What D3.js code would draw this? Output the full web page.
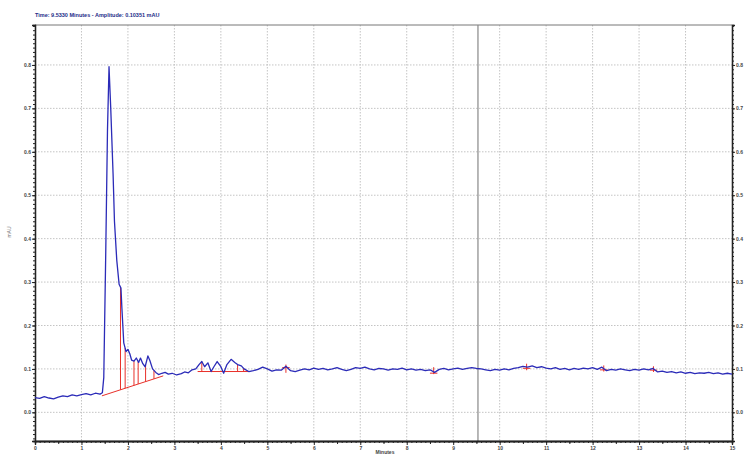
<!DOCTYPE html>
<html>
<head>
<meta charset="utf-8">
<script src="https://cdn.jsdelivr.net/npm/d3@7"></script>
<style>
  body { margin: 0; background: #fff; }
  text { font-family: "Liberation Sans", Arial, sans-serif; }
</style>
</head>
<body>
<div id="chart"></div>
<script>
// chromatogram trace, minutes vs mAU
let traceT = [0, 0.1, 0.2, 0.3, 0.4, 0.5, 0.6, 0.7, 0.8, 0.9, 1.0, 1.1, 1.2, 1.3, 1.4, 1.45,
  1.48, 1.52, 1.56, 1.593, 1.63, 1.68, 1.71, 1.76, 1.81, 1.85, 1.87, 1.91, 1.96, 2.0, 2.04, 2.08,
  2.13, 2.18, 2.23, 2.27, 2.32, 2.37, 2.43, 2.47, 2.53, 2.6, 2.66, 2.73, 2.8, 2.87, 2.95, 3.05,
  3.15, 3.22, 3.3, 3.38, 3.46, 3.53, 3.59, 3.65, 3.72, 3.79, 3.85, 3.92, 4.0, 4.06, 4.13, 4.22,
  4.3, 4.36, 4.44, 4.5, 4.6,
  4.7, 4.8, 4.9, 5.0, 5.1, 5.2, 5.3, 5.4, 5.5, 5.6, 5.7, 5.8, 5.9, 6.0, 6.1, 6.2, 6.3, 6.4, 6.5,
  6.6, 6.7, 6.8, 6.9, 7.0, 7.1, 7.2, 7.3, 7.4, 7.5, 7.6, 7.7, 7.8, 7.9, 8.0, 8.1, 8.2, 8.3, 8.4,
  8.5, 8.6, 8.7, 8.8, 8.9, 9.0, 9.1, 9.2, 9.3, 9.4, 9.5, 9.6, 9.7, 9.8, 9.9, 10.0, 10.1, 10.2,
  10.3, 10.4, 10.5, 10.6, 10.7, 10.8, 10.9, 11.0, 11.1, 11.2, 11.3, 11.4, 11.5, 11.6, 11.7, 11.8,
  11.9, 12.0, 12.1, 12.2, 12.3, 12.4, 12.5, 12.6, 12.7, 12.8, 12.9, 13.0, 13.1, 13.2, 13.3, 13.4,
  13.5, 13.6, 13.7, 13.8, 13.9, 14.0, 14.1, 14.2, 14.3, 14.4, 14.5, 14.6, 14.7, 14.8, 14.9, 15.0];
let traceV = [0.034, 0.032, 0.036, 0.033, 0.031, 0.035, 0.038, 0.036, 0.040, 0.038, 0.041, 0.043, 0.040, 0.044, 0.042, 0.045,
  0.08, 0.35, 0.65, 0.796, 0.70, 0.55, 0.44, 0.35, 0.295, 0.286, 0.24, 0.16, 0.14, 0.145, 0.135, 0.12,
  0.118, 0.125, 0.115, 0.125, 0.112, 0.105, 0.13, 0.12, 0.10, 0.092, 0.087, 0.09, 0.092, 0.088, 0.09, 0.086,
  0.089, 0.093, 0.091, 0.098, 0.10, 0.11, 0.117, 0.105, 0.114, 0.094, 0.105, 0.117, 0.105, 0.09, 0.11, 0.122,
  0.115, 0.11, 0.107, 0.10, 0.094,
  0.096, 0.099, 0.104, 0.100, 0.095, 0.098, 0.097, 0.106, 0.096, 0.094, 0.097, 0.100, 0.098, 0.102, 0.099, 0.101, 0.098, 0.100, 0.103,
  0.099, 0.096, 0.099, 0.103, 0.101, 0.104, 0.100, 0.098, 0.101, 0.100, 0.097, 0.100, 0.099, 0.102, 0.098, 0.100, 0.097, 0.099, 0.096,
  0.098, 0.092, 0.099, 0.101, 0.098, 0.100, 0.102, 0.099, 0.101, 0.103, 0.101, 0.100, 0.098, 0.096, 0.099, 0.097, 0.100, 0.098,
  0.101, 0.103, 0.106, 0.104, 0.107, 0.103, 0.105, 0.102, 0.100, 0.103, 0.099, 0.101, 0.098, 0.101, 0.099, 0.102,
  0.100, 0.103, 0.099, 0.104, 0.096, 0.099, 0.097, 0.100, 0.098, 0.096, 0.099, 0.097, 0.100, 0.098, 0.101, 0.093,
  0.095, 0.092, 0.094, 0.091, 0.093, 0.090, 0.092, 0.089, 0.091, 0.090, 0.092, 0.089, 0.091, 0.088, 0.090, 0.088];

// integration baselines (red)
let base1 = [[1.44, 0.038], [2.76, 0.084]];
let drops1 = [1.84, 1.94, 2.13, 2.22, 2.38, 2.56];
let base2 = [[3.5, 0.094], [4.63, 0.094]];
let drops2 = [3.59, 3.79, 4.08, 4.36, 4.49];
// small integrated blips: [time, low, high]
let blips = [[5.4, 0.091, 0.110], [8.58, 0.088, 0.104], [10.58, 0.097, 0.112], [12.24, 0.094, 0.108], [13.31, 0.093, 0.106]];

let xTicks = d3.range(0, 16, 1);
let yTicks = [0.0, 0.1, 0.2, 0.3, 0.4, 0.5, 0.6, 0.7, 0.8];
let cursorT = 9.533;
let titleText = "Time:  9.5330 Minutes - Amplitude:  0.10351 mAU";

let dim = { width: 751, height: 457, left: 35, right: 732, top: 25, bottom: 441 };

let svg = d3.select("#chart").append("svg")
  .attr("width", dim.width).attr("height", dim.height)
  .style("background", "#fff");

let x = d3.scaleLinear().domain([0, 15]).range([dim.left, dim.right]);
let y = d3.scaleLinear().domain([-0.066, 0.892]).range([dim.bottom, dim.top]);

// grid
svg.append("g").selectAll("line").data(xTicks.slice(1, -1)).join("line")
  .attr("x1", d => x(d)).attr("x2", d => x(d))
  .attr("y1", dim.top).attr("y2", dim.bottom)
  .attr("stroke", "#c4c4c4").attr("stroke-width", 1).attr("stroke-dasharray", "1.5,1.5");
svg.append("g").selectAll("line").data(yTicks).join("line")
  .attr("x1", dim.left).attr("x2", dim.right)
  .attr("y1", d => y(d)).attr("y2", d => y(d))
  .attr("stroke", "#c4c4c4").attr("stroke-width", 1).attr("stroke-dasharray", "1.5,1.5");

// frame top
svg.append("line").attr("x1", dim.left).attr("x2", dim.right)
  .attr("y1", dim.top).attr("y2", dim.top).attr("stroke", "#777").attr("stroke-width", 1);

// cursor
svg.append("line").attr("x1", x(cursorT)).attr("x2", x(cursorT))
  .attr("y1", dim.top).attr("y2", dim.bottom).attr("stroke", "#888").attr("stroke-width", 1.2);

// axes
function styleAxis(g) {
  g.select(".domain").attr("stroke", "#222").attr("stroke-width", 1.3);
  g.selectAll(".tick line").attr("stroke", "#222");
  g.selectAll("text").attr("font-size", 5).attr("font-weight", "bold").attr("fill", "#444");
}
let fmtY = d3.format(".1f");
let minorY = d3.range(-0.06, 0.891, 0.01).map(d => +d.toFixed(2));
let minorX = d3.range(0, 15.01, 0.1).map(d => +d.toFixed(1));

svg.append("g").attr("transform", `translate(${dim.left},0)`)
  .call(d3.axisLeft(y).tickValues(minorY).tickSize(2).tickFormat(""))
  .call(styleAxis);
svg.append("g").attr("transform", `translate(${dim.left},0)`)
  .call(d3.axisLeft(y).tickValues(yTicks).tickSize(3).tickPadding(1).tickFormat(fmtY))
  .call(styleAxis);
svg.append("g").attr("transform", `translate(${dim.right},0)`)
  .call(d3.axisRight(y).tickValues(minorY).tickSize(2).tickFormat(""))
  .call(styleAxis);
svg.append("g").attr("transform", `translate(${dim.right},0)`)
  .call(d3.axisRight(y).tickValues(yTicks).tickSize(3).tickPadding(1).tickFormat(fmtY))
  .call(styleAxis);

svg.append("g").attr("transform", `translate(0,${dim.bottom})`)
  .call(d3.axisBottom(x).tickValues(minorX).tickSize(2).tickFormat(""))
  .call(styleAxis);
svg.append("g").attr("transform", `translate(0,${dim.bottom})`)
  .call(d3.axisBottom(x).tickValues(d3.range(0.5, 15, 1)).tickSize(3).tickFormat(""))
  .call(styleAxis);
svg.append("g").attr("transform", `translate(0,${dim.bottom})`)
  .call(d3.axisBottom(x).tickValues(xTicks).tickSize(4).tickPadding(1).tickFormat(d3.format("d")))
  .call(styleAxis);

// trace
let trace = traceT.map((t, i) => [t, traceV[i]]);
let line = d3.line().x(d => x(d[0])).y(d => y(d[1]));

// value of the trace at time t
function traceAt(t) {
  let i = d3.bisector(d => d[0]).left(trace, t);
  if (i <= 0) return trace[0][1];
  let a = trace[i - 1], b = trace[i];
  return a[1] + (b[1] - a[1]) * (t - a[0]) / (b[0] - a[0]);
}
function baseAt(seg, t) {
  let a = seg[0], b = seg[1];
  return a[1] + (b[1] - a[1]) * (t - a[0]) / (b[0] - a[0]);
}

let red = "#e8302a";
let rg = svg.append("g").attr("stroke", red).attr("stroke-width", 1);
[[base1, drops1], [base2, drops2]].forEach(([seg, drops]) => {
  rg.append("path").attr("fill", "none").attr("d", line(seg));
  rg.selectAll(null).data(drops).join("line")
    .attr("x1", d => x(d)).attr("x2", d => x(d))
    .attr("y1", d => y(baseAt(seg, d))).attr("y2", d => y(traceAt(d)));
});
rg.selectAll(null).data(blips).join("line")
  .attr("x1", d => x(d[0])).attr("x2", d => x(d[0]))
  .attr("y1", d => y(d[1])).attr("y2", d => y(d[2]));
rg.selectAll(null).data(blips).join("line")
  .attr("x1", d => x(d[0] - 0.08)).attr("x2", d => x(d[0] + 0.08))
  .attr("y1", d => y(traceAt(d[0]) - 0.003)).attr("y2", d => y(traceAt(d[0]) - 0.003));

svg.append("path").datum(trace)
  .attr("fill", "none").attr("stroke", "#2b2bb8").attr("stroke-width", 1.3)
  .attr("stroke-linejoin", "round")
  .attr("d", line);

// labels
svg.append("text").attr("x", dim.left).attr("y", 17)
  .attr("font-size", 5.5).attr("font-weight", "bold").attr("fill", "#1c2c88")
  .text(titleText);
svg.append("text").attr("x", 385).attr("y", 454).attr("text-anchor", "middle")
  .attr("font-size", 5).attr("font-weight", "bold").attr("fill", "#444").text("Minutes");
svg.append("text").attr("transform", "translate(11,232) rotate(-90)").attr("text-anchor", "middle")
  .attr("font-size", 5).attr("fill", "#777").text("mAU");
</script>
</body>
</html>
